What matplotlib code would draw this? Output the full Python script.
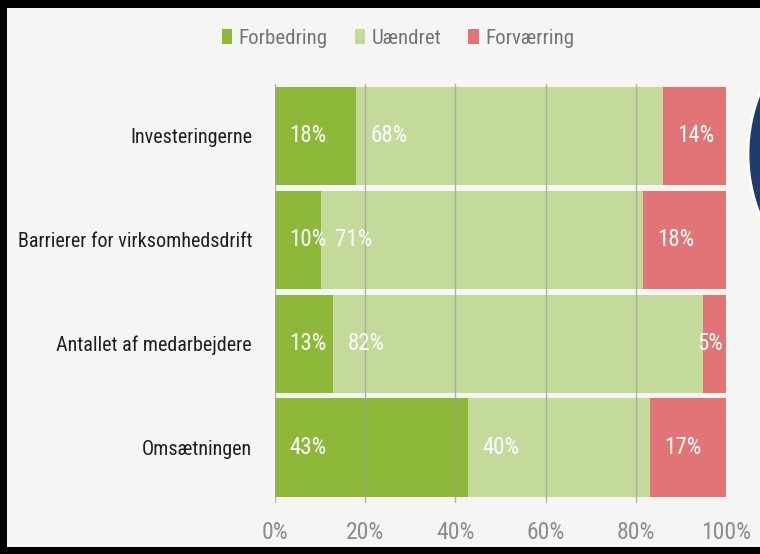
import matplotlib
matplotlib.use('Agg')
import matplotlib.pyplot as plt
from matplotlib import font_manager
from matplotlib.patches import Rectangle, Ellipse

# data (values in percent)
categories = ['Omsætningen', 'Antallet af medarbejdere', 'Barrierer for virksomhedsdrift', 'Investeringerne']
series_names = ['Forbedring', 'Uændret', 'Forværring']
forbedring = [42.8, 12.9, 10.2, 18.0]
uaendret = [40.3, 82.0, 71.4, 68.0]
forvaerring = [16.9, 5.1, 18.4, 14.0]
tick_labels = ['0%', '20%', '40%', '60%', '80%', '100%']

colors = ['#8db83a', '#c4da9b', '#e07476']


def pick_font():
    # the original uses a narrow display font, take the closest narrow one installed
    fonts = font_manager.fontManager.ttflist
    names = {f.name for f in fonts}
    for cand in ['Roboto Condensed', 'Liberation Sans Narrow', 'Open Sans Condensed']:
        if cand in names:
            return cand, 'normal'
    if any(f.name == 'DejaVu Sans' and 'condensed' in str(f.stretch) for f in fonts):
        return 'DejaVu Sans', 'condensed'
    return 'DejaVu Sans', 'normal'


FONT, STRETCH = pick_font()
plt.rcParams['font.family'] = [FONT, 'DejaVu Sans']
plt.rcParams['font.stretch'] = STRETCH

W, H = 760, 554
fig = plt.figure(figsize=(W / 100, H / 100), dpi=100, facecolor='black')

# light panel inside the black frame
fig.patches.append(Rectangle((7 / W, 7 / H), 1 - 7 / W, 1 - 15 / H, transform=fig.transFigure,
                             facecolor='#f5f5f3', edgecolor='none', zorder=-2))
# dark blue circle cut off at the right edge
fig.patches.append(Ellipse((912 / W, 1 - 154 / H), 2 * 164 / W, 2 * 164 / H, transform=fig.transFigure,
                           facecolor='#1f3c6e', edgecolor='white', linewidth=2, zorder=-1))

ax = fig.add_axes([275 / W, 1 - 503 / H, 451 / W, 419 / H])
ax.set_facecolor('none')

y = list(range(len(categories)))
lefts = [0] * len(categories)
bars = []
for name, vals, col in zip(series_names, [forbedring, uaendret, forvaerring], colors):
    b = ax.barh(y, vals, left=lefts, height=0.945, color=col, label=name, zorder=1)
    bars.append(b)
    for i, v in enumerate(vals):
        if v < 8:
            ax.text(lefts[i] + v - 0.6, y[i], '%d%%' % round(v), ha='right', va='center',
                    color='white', fontsize=16.5, zorder=3)
        else:
            ax.text(lefts[i] + 3.2, y[i], '%d%%' % round(v), ha='left', va='center',
                    color='white', fontsize=16.5, zorder=3)
    lefts = [l + v for l, v in zip(lefts, vals)]

ax.set_xlim(0, 100)
ax.set_ylim(-0.535, 3.5)
ax.set_xticks([0, 20, 40, 60, 80, 100])
ax.set_xticklabels(tick_labels, fontsize=17, color='#8c8c8c')
ax.set_yticks(y)
ax.set_yticklabels(categories, fontsize=14.5, color='#1e1e1e')
ax.tick_params(axis='x', length=0, pad=13)
ax.tick_params(axis='y', length=0, pad=16.5)
ax.grid(axis='x', color='#9fa596', linewidth=1, alpha=0.8, zorder=2)
ax.grid(axis='y', visible=False)
ax.set_axisbelow(False)
for s in ax.spines.values():
    s.set_visible(False)

leg = ax.legend(handles=bars, labels=series_names, loc='center', ncol=3,
                bbox_to_anchor=(398 / W, 1 - 38 / H), bbox_transform=fig.transFigure,
                frameon=False, fontsize=15, handlelength=0.5, handleheight=0.75,
                handletextpad=0.3, columnspacing=1.3)
for t in leg.get_texts():
    t.set_color('#747474')

fig.savefig('out.png', dpi=100, facecolor=fig.get_facecolor())
